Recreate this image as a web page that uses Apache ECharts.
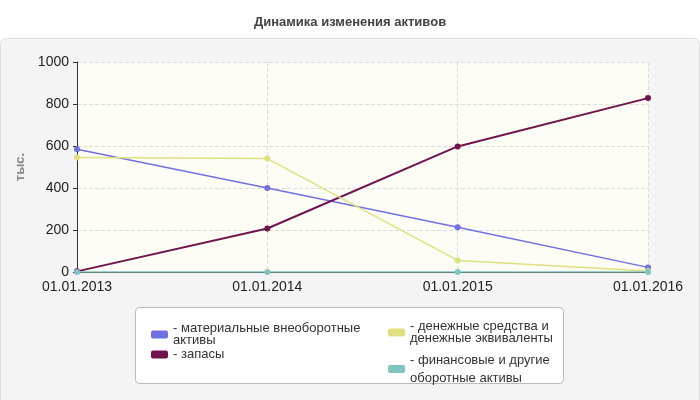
<!DOCTYPE html><html><head><meta charset="utf-8"><script src="https://cdn.jsdelivr.net/npm/echarts@6/dist/echarts.min.js"></script></head><body style="margin:0"><div id="c" style="width:700px;height:400px"></div><script>
const categories=['01.01.2013','01.01.2014','01.01.2015','01.01.2016'];
const names=['- материальные внеоборотные\nактивы','- запасы','- денежные средства и\nденежные эквиваленты','- финансовые и другие\nоборотные активы'];
const colors=['#7070e0','#70144c','#e0e080','#80c4c0'];
const material=[585,400,213,22];
const stocks=[3,207,598,828];
const cash=[545,540,55,5];
const fin=[0,0,0,0];
const vals=[material,stocks,cash,fin];
const legPos=[[146,317],[146,343],[383,315],[383,346]];
const ch=echarts.init(document.getElementById('c'));
ch.setOption({
 backgroundColor:'#fff',
 title:{text:'Динамика изменения активов',left:'center',top:11,textStyle:{fontSize:13,fontWeight:'bold',color:'#444',fontFamily:'Liberation Sans'}},
 graphic:[
  {type:'rect',z:-10,shape:{x:0.5,y:38.5,width:699,height:370,r:6},style:{fill:'#f4f4f4',stroke:'#ddd'}},
  {type:'rect',z:-5,shape:{x:135.5,y:307.5,width:428,height:76,r:4},style:{fill:'#fff',stroke:'#bbb'}}
 ],
 grid:{left:77,right:52,top:62,bottom:128,show:true,backgroundColor:'#fdfdf5',borderWidth:0},
 xAxis:{type:'category',data:categories,boundaryGap:false,axisLine:{lineStyle:{color:'#333'}},axisTick:{show:false},
  axisLabel:{color:'#222',fontSize:14,fontFamily:'Liberation Sans',margin:8},splitLine:{show:true,lineStyle:{type:'dashed',color:'#ddd'}}},
 yAxis:{type:'value',min:0,max:1000,interval:200,name:'тыс.',nameLocation:'middle',nameGap:50,nameTextStyle:{color:'#888',fontSize:13,fontWeight:'bold',fontFamily:'Liberation Sans'},
  axisLine:{show:true,lineStyle:{color:'#333'}},axisTick:{show:true,length:4},axisLabel:{color:'#222',fontSize:14,fontFamily:'Liberation Sans',formatter:v=>String(v)},splitLine:{lineStyle:{type:'dashed',color:'#ddd'}}},
 legend:names.map((n,i)=>({data:[n],left:legPos[i][0],top:legPos[i][1],orient:'vertical',itemWidth:17,itemHeight:8,icon:'roundRect',itemGap:4,
  textStyle:{color:'#333',fontSize:13,fontFamily:'Liberation Sans',lineHeight:i==3?18:12},selectedMode:false})),
 series:names.map((n,i)=>({name:n,type:'line',data:vals[i],symbol:'circle',symbolSize:6,color:colors[i],lineStyle:{width:i==1?2:1.5},z:i==3?5:3}))
});
</script></body></html>
